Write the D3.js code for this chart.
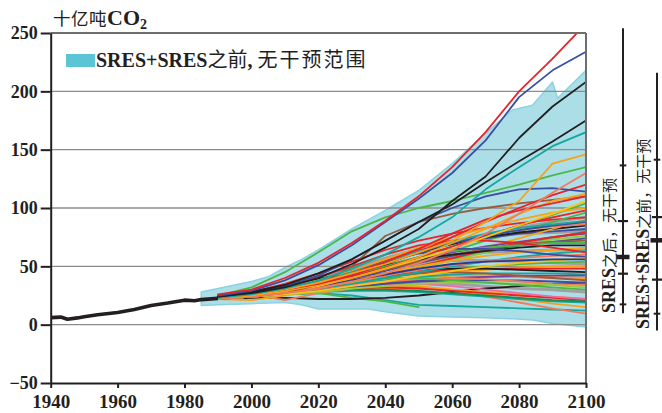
<!DOCTYPE html>
<html>
<head>
<meta charset="utf-8">
<script src="https://cdn.jsdelivr.net/npm/d3@7"></script>
<style>
  html, body { margin: 0; padding: 0; background: #fff; }
  svg { display: block; }
</style>
</head>
<body>
<svg id="chart" width="662" height="413"></svg>
<script>
// ---- data -------------------------------------------------------------
const yearTicks = [1940, 1960, 1980, 2000, 2020, 2040, 2060, 2080, 2100];
const emissionTicks = [-50, 0, 50, 100, 150, 200, 250];
const gridValues = [0, 50, 100, 150, 200];

// observed emissions, GtCO2
const historyYears  = [1940, 1943, 1945, 1948, 1950, 1954, 1960, 1965, 1970, 1975, 1980, 1983, 1985, 1990];
const historyValues = [6.0, 6.5, 4.6, 5.8, 6.8, 8.5, 10.5, 13, 16.5, 18.5, 21, 20.5, 21.5, 22.5];

// pre-SRES + SRES no-intervention range
const rangeYears = [1985, 1990, 2000, 2005, 2010, 2015, 2020, 2030, 2035, 2040, 2050, 2060, 2070, 2078, 2084, 2090, 2091.5, 2100];
const rangeLow   = [16.5, 17, 18, 18.5, 19, 17, 13.5, 13.5, 13.5, 11, 7.5, 6.5, 6, 5, 4, 1, 0.5, -2];
const rangeHigh  = [28, 31, 37, 41, 49, 56, 64, 82, 90, 98, 115, 138, 164, 184, 188, 208, 194, 218];

// post-SRES scenario pathways
const scenarioYears = [1990, 2000, 2010, 2020, 2030, 2040, 2050, 2060, 2070, 2080, 2090, 2100];
const scenarioValues = [
  [23, 26, 30, 36, 44, 53, 62, 70, 77, 83, 88, 92],
  [23, 27, 33, 40, 48, 57, 65, 71, 75, 78, 79, 80],
  [23, 26, 30, 35, 41, 48, 54, 59, 62, 63, 64, 64],
  [23, 27, 31, 36, 42, 48, 52, 55, 55, 54, 53, 52],
  [23, 25, 28, 31, 34, 36, 36, 35, 33, 31, 30, 28],
  [22, 24, 26, 27, 25, 21, 17, 16, 15, 14, 13, 12],
  [22, 24, 26, 27, 23, 20, 15, null, null, null, null, null],
  [22, 24, 27, 30, 32, 33, 32, 29, 24, 19, 14, 9.5],
  [22, 25, 28, 31, 33, 34, 33, 30, 26, 22, 18, 15],
  [22, 23, 23, 22, 22, 23, 25, 28, 31, 33, 35, 36],
  [22, 24, 26, 28, 30, 31, 31, 30, 28, 26, 24, 22],
  [23, 25, 27, 29, 31, 32, 31, 29, 27, 25, 23, 21],
  [22, 24, 26, 28, 29, 29, 28, 26, 24, 22, 20, 19],
  [22, 24, 27, 30, 33, 35, 35, 33, 30, 27, 24, 22],
  [23, 25, 27, 29, 30, 30, 29, 27, 25, 23, 21, 20],
  [23, 26, 21, 27, 31, 35, 38, 40, 41, 41, 40, 39],
  [22, 21, 25, 29, 33, 37, 40, 42, 43, 42, 41, 40],
  [22, 25, 28, 32, 36, 40, 44, 48, 50, 52, 53, 54],
  [22, 24, 27, 30, 34, 38, 42, 45, 47, 49, 50, 50],
  [23, 26, 30, 34, 38, 42, 45, 47, 48, 48, 48, 48],
  [24, 27, 31, 35, 40, 44, 47, 48, 48, 47, 46, 45],
  [22, 25, 28, 31, 35, 38, 41, 43, 44, 44, 44, 43],
  [22, 24, 27, 30, 33, 36, 38, 40, 41, 42, 42, 42],
  [23, 26, 29, 33, 37, 41, 44, 45, 44, 42, 40, 38],
  [22, 24, 26, 29, 32, 35, 37, 38, 38, 38, 37, 36],
  [23, 25, 28, 31, 34, 37, 39, 40, 39, 37, 35, 34],
  [22, 24, 26, 28, 31, 33, 35, 36, 36, 35, 34, 32],
  [23, 26, 29, 33, 37, 40, 40, 38, 36, 34, 32, 30],
  [24, 28, 35, 44, 54, 64, 72, 78, 83, 87, 90, 92],
  [22, 25, 29, 34, 40, 47, 55, 63, 72, 80, 88, 96],
  [23, 27, 32, 38, 46, 55, 64, 70, 74, 78, 80, 82],
  [24, 27, 31, 37, 44, 53, 62, 69, 75, 79, 82, 85],
  [22, 24, 27, 31, 36, 42, 50, 58, 66, 74, 82, 90],
  [23, 26, 31, 38, 46, 56, 65, 72, 77, 81, 84, 86],
  [22, 25, 28, 33, 38, 44, 50, 56, 62, 68, 74, 80],
  [23, 26, 30, 35, 41, 48, 55, 62, 67, 71, 75, 78],
  [22, 25, 28, 32, 37, 43, 50, 57, 64, 70, 75, 79],
  [22, 24, 27, 31, 36, 42, 48, 55, 62, 68, 73, 76],
  [23, 26, 30, 34, 39, 46, 53, 59, 64, 68, 71, 74],
  [22, 25, 29, 34, 40, 47, 54, 60, 65, 69, 71, 72],
  [23, 26, 30, 36, 43, 51, 58, 63, 66, 68, 70, 70],
  [24, 28, 33, 39, 45, 51, 56, 60, 63, 66, 68, 68],
  [22, 25, 29, 33, 38, 44, 50, 55, 59, 62, 64, 66],
  [22, 24, 27, 31, 35, 40, 45, 50, 54, 58, 61, 63],
  [24, 28, 34, 41, 50, 60, 68, 72, 72, 70, 66, 62],
  [22, 25, 28, 32, 37, 42, 47, 51, 54, 57, 59, 60],
  [23, 27, 32, 38, 46, 54, 61, 65, 65, 63, 60, 58],
  [22, 24, 26, 29, 33, 37, 42, 46, 50, 53, 55, 57],
  [23, 26, 29, 33, 38, 43, 48, 52, 54, 55, 56, 56],
  [23, 26, 30, 35, 42, 50, 58, 67, 76, 85, 94, 104],
  [24, 27, 32, 38, 46, 56, 66, 75, 83, 90, 96, 100],
  [23, 25, 29, 34, 41, 49, 58, 67, 76, 85, 92, 98],
  [22, 25, 29, 35, 43, 52, 62, 70, 76, 81, 85, 88],
  [23, 26, 31, 37, 45, 54, 63, 71, 78, 83, 86, 89],
  [23, 25, 28, 33, 40, 48, 56, 65, 75, 85, 95, 106],
  [22, 24, 27, 34, 50, 76, 88, 95, 100, 104, 107, 110],
  [23, 25, 29, 34, 40, 48, 58, 70, 82, 95, 106, 112],
  [23, 26, 30, 36, 44, 54, 65, 78, 90, 98, 104, 110],
  [23, 26, 30, 35, 42, 52, 62, 75, 88, 100, 111, 120],
  [24, 27, 33, 42, 56, 72, 88, 100, 110, 116, 117, 114],
  [22, 24, 27, 31, 37, 44, 53, 64, 78, 95, 113, 130],
  [25, 32, 45, 62, 80, 92, 100, 106, 113, 120, 128, 135],
  [23, 25, 30, 36, 44, 52, 62, 72, 88, 106, 138, 146],
  [23, 26, 31, 38, 48, 60, 75, 92, 116, 135, 153, 165],
  [24, 28, 34, 44, 56, 72, 88, 103, 122, 140, 157, 175],
  [24, 27, 32, 40, 52, 66, 82, 106, 127, 160, 187, 208],
  [25, 29, 38, 51, 68, 88, 108, 130, 158, 195, 218, 234],
  [26, 30, 40, 53, 70, 89, 110, 135, 165, 200, 228, 258]
];

// spread of the two scenario sets: full span and marked percentiles
const postSresSpan  = [9.7, 254];
const postSresMarks = [17.4, 43.7, 58, 88.8, 136.5];
const preSresSpan   = [-5, 216];
const preSresMarks  = [9.4, 38.6, 72.3, 92.2, 141.4];

// ---- styling ----------------------------------------------------------
const palette = {
  red: '#e8232a', blue: '#3b4fa1', black: '#231f20', teal: '#16a89e',
  orange: '#f7a21b', green: '#4bb748', salmon: '#f37b5b', gray: '#a0a0a0',
  brown: '#9b5a3c', purple: '#7c3f97', olive: '#9bc83d', pink: '#ee6ca6',
  darkgreen: '#1d8a45', gold: '#fcc314', navy: '#2b3990'
};
const scenarioStroke = [
  'gray', 'gray', 'gray', 'gray', 'gray',
  'teal', 'green', 'salmon', 'orange', 'black', 'orange', 'red', 'teal', 'pink', 'darkgreen',
  'salmon', 'orange', 'green', 'orange', 'red', 'black', 'teal', 'purple', 'brown', 'blue',
  'salmon', 'olive', 'green',
  'red', 'green', 'blue', 'black', 'orange', 'salmon', 'teal', 'purple', 'red', 'olive',
  'blue', 'brown', 'green', 'black', 'orange', 'teal', 'red', 'salmon', 'blue', 'gold', 'navy',
  'green', 'orange', 'red', 'blue', 'teal',
  'gold', 'brown', 'orange', 'red', 'red', 'blue', 'salmon', 'green', 'orange', 'teal',
  'black', 'black', 'blue', 'red'
];

const serif = '"Liberation Serif", "Times New Roman", serif';
const cjk = '"Noto Sans CJK SC", "Noto Sans", sans-serif';

// ---- scales -----------------------------------------------------------
const x = d3.scaleLinear().domain([1940, 2100]).range([50.7, 586]);
const y = d3.scaleLinear().domain([-50, 250]).range([383, 33]);

const svg = d3.select('#chart');

svg.append('defs').append('clipPath').attr('id', 'plot-clip')
  .append('rect')
  .attr('x', x(1940)).attr('y', y(250))
  .attr('width', x(2100) - x(1940)).attr('height', y(-50) - y(250));

const plot = svg.append('g').attr('clip-path', 'url(#plot-clip)');

// shaded no-intervention range
const band = d3.area()
  .x(d => x(d[0])).y0(d => y(d[1])).y1(d => y(d[2]));
plot.append('path')
  .datum(rangeYears.map((yr, i) => [yr, rangeLow[i], rangeHigh[i]]))
  .attr('d', band)
  .attr('fill', '#acdee8')
  .attr('stroke', '#8ad3e2')
  .attr('stroke-width', 1.5)
  .attr('stroke-linejoin', 'round');

// horizontal grid
plot.selectAll('line.grid').data(gridValues).join('line')
  .attr('class', 'grid')
  .attr('x1', x(1940)).attr('x2', x(2100))
  .attr('y1', d => y(d)).attr('y2', d => y(d))
  .attr('stroke', '#8c8c8c').attr('stroke-width', 1.3);

// scenario pathways
const path = d3.line()
  .defined(d => d[1] != null)
  .x(d => x(d[0])).y(d => y(d[1]));

plot.selectAll('path.scenario')
  .data(scenarioValues.map((vals, i) => ({ pts: scenarioYears.map((yr, j) => [yr, vals[j]]), key: scenarioStroke[i] })))
  .join('path')
  .attr('class', 'scenario')
  .attr('d', d => path(d.pts))
  .attr('fill', 'none')
  .attr('stroke', d => palette[d.key])
  .attr('stroke-width', d => d.key === 'gray' ? 3 : 1.8)
  .attr('stroke-linejoin', 'round')
  .attr('stroke-linecap', 'round');

// historical emissions
plot.append('path')
  .datum(historyYears.map((yr, i) => [yr, historyValues[i]]))
  .attr('d', path)
  .attr('fill', 'none')
  .attr('stroke', '#231f20')
  .attr('stroke-width', 3.6)
  .attr('stroke-linejoin', 'round');

// frame: top and right in grey
svg.append('line')
  .attr('x1', x(1940)).attr('x2', x(2100)).attr('y1', y(250)).attr('y2', y(250))
  .attr('stroke', '#6e6e6e').attr('stroke-width', 2);
svg.append('line')
  .attr('x1', x(2100)).attr('x2', x(2100)).attr('y1', y(250)).attr('y2', y(-50))
  .attr('stroke', '#6e6e6e').attr('stroke-width', 2);

// axes
const yAxis = svg.append('g')
  .attr('transform', `translate(${x(1940)},0)`)
  .call(d3.axisLeft(y).tickValues(emissionTicks).tickSize(10).tickSizeOuter(0).tickPadding(3).tickFormat(d3.format('d')));
const xAxis = svg.append('g')
  .attr('transform', `translate(0,${y(-50)})`)
  .call(d3.axisBottom(x).tickValues(yearTicks).tickSize(5).tickSizeOuter(0).tickPadding(6.5).tickFormat(d3.format('d')));

[yAxis, xAxis].forEach(g => {
  g.select('.domain').attr('stroke', '#231f20').attr('stroke-width', 2);
  g.selectAll('.tick line').attr('stroke', '#231f20').attr('stroke-width', 2);
  g.selectAll('.tick text')
    .attr('fill', '#231f20')
    .attr('font-family', serif)
    .attr('font-weight', 'bold');
});
yAxis.selectAll('.tick text').attr('font-size', 18);
xAxis.selectAll('.tick text').attr('font-size', 19);

// unit title
const title = svg.append('text').attr('x', 53).attr('y', 25).attr('fill', '#231f20');
title.append('tspan').attr('font-family', cjk).attr('font-size', 17.5).attr('letter-spacing', 0.5).text('十亿吨');
title.append('tspan').attr('font-family', serif).attr('font-weight', 'bold').attr('font-size', 22).text('CO');
title.append('tspan').attr('font-family', serif).attr('font-weight', 'bold').attr('font-size', 14).attr('dy', 4).text('2');

// legend
svg.append('rect')
  .attr('x', 66).attr('y', 54).attr('width', 29).attr('height', 13)
  .attr('fill', '#5bc5d6');
const legend = svg.append('text').attr('x', 96).attr('y', 66.5).attr('fill', '#231f20');
legend.append('tspan').attr('font-family', serif).attr('font-weight', 'bold').attr('font-size', 20).text('SRES+SRES');
legend.append('tspan').attr('font-family', cjk).attr('font-size', 20).text('之前');
legend.append('tspan').attr('font-family', serif).attr('font-weight', 'bold').attr('font-size', 20).text(', ');
legend.append('tspan').attr('font-family', cjk).attr('font-size', 20).attr('letter-spacing', 2).text('无干预范围');

// range brackets on the right
function bracket(xPos, span, marks) {
  const g = svg.append('g').attr('stroke', '#231f20');
  g.append('line')
    .attr('x1', xPos).attr('x2', xPos)
    .attr('y1', y(span[0])).attr('y2', y(span[1]))
    .attr('stroke-width', 2);
  const half = [3.3, 5, 6.5, 5, 3.3];
  const weight = [2, 2.2, 4.5, 2.2, 2];
  g.selectAll('line.mark').data(marks).join('line')
    .attr('class', 'mark')
    .attr('x1', (d, i) => xPos - half[i]).attr('x2', (d, i) => xPos + half[i])
    .attr('y1', d => y(d)).attr('y2', d => y(d))
    .attr('stroke-width', (d, i) => weight[i]);
}
bracket(623, postSresSpan, postSresMarks);
bracket(657, preSresSpan, preSresMarks);

function sideLabel(xBase, yStart, latin) {
  const t = svg.append('text')
    .attr('transform', `translate(${xBase},${yStart}) rotate(-90)`)
    .attr('fill', '#231f20');
  t.append('tspan').attr('font-family', serif).attr('font-weight', 'bold').attr('font-size', 18).text(latin);
  return t;
}
const l1 = sideLabel(615, 313, 'SRES');
l1.append('tspan').attr('font-family', cjk).attr('font-size', 15).text('之后，无干预');
const l2 = sideLabel(649, 329, 'SRES+SRES');
l2.append('tspan').attr('font-family', cjk).attr('font-size', 15).text('之前，无干预');
</script>
</body>
</html>
